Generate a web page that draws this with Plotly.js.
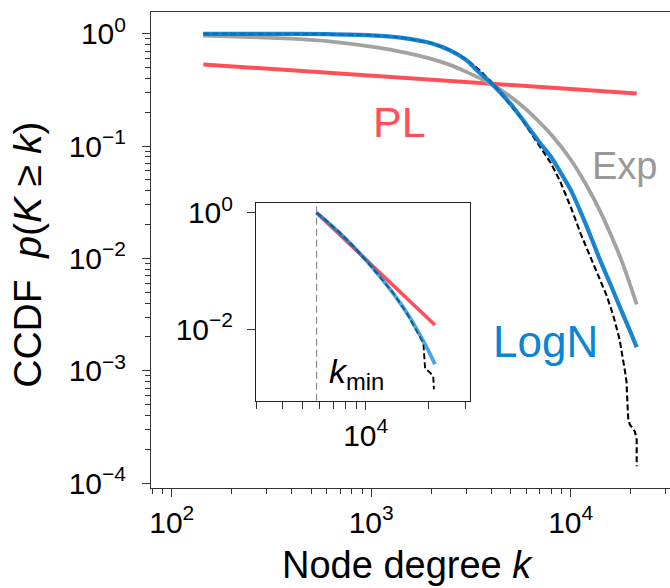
<!DOCTYPE html>
<html>
<head>
<meta charset="utf-8">
<script src="https://cdn.plot.ly/plotly-3.0.1.min.js"></script>
<style>html,body{margin:0;padding:0;overflow:hidden;background:#fff}</style>
</head>
<body>
<div id="chart" style="width:670px;height:588px"></div>
<script>
// ---- Main panel data (node degree k, CCDF p(K>=k)) ----
const dataK = [144, 300, 600, 1000, 1400, 2000, 2500, 3000, 3500, 4000, 4467, 5012, 5623, 6237, 7079, 7943, 8831, 10000, 11220, 12589, 14028, 15136, 16368, 17579, 18707, 19055, 19275, 19454, 19815, 20989, 21430, 21430];
const dataP = [1.0, 0.998, 0.989, 0.968, 0.927, 0.826, 0.716, 0.592, 0.473, 0.372, 0.295, 0.229, 0.178, 0.135, 0.0955, 0.0708, 0.049, 0.0288, 0.0166, 0.0102, 0.00646, 0.00468, 0.00309, 0.00191, 0.001, 0.000794, 0.000501, 0.000363, 0.000331, 0.000288, 0.000243, 0.000141];

const lognK = [144, 300, 600, 1000, 1400, 2000, 2500, 3000, 3500, 4000, 5000, 6000, 7000, 8000, 9000, 10000, 12000, 14000, 16000, 18000, 20000, 21430];
const lognP = [0.998, 0.997, 0.989, 0.966, 0.923, 0.822, 0.708, 0.582, 0.447, 0.363, 0.237, 0.155, 0.107, 0.0794, 0.0562, 0.0407, 0.0195, 0.00977, 0.00562, 0.00339, 0.00219, 0.00162];

const expK = [144, 250, 400, 630, 1000, 1500, 2000, 2500, 3000, 4000, 5000, 6000, 7000, 8000, 10000, 12000, 14000, 16000, 18000, 20000, 21430];
const expP = [0.959, 0.933, 0.902, 0.851, 0.767, 0.676, 0.596, 0.525, 0.457, 0.355, 0.275, 0.211, 0.162, 0.126, 0.0759, 0.0447, 0.0266, 0.0158, 0.00955, 0.00562, 0.00389];

const plK = [144, 21430];
const plP = [0.532, 0.294];

// ---- Inset data (tail above k_min) ----
const kMin = 5830;
const insDataK = [5830, 6607, 7534, 8710, 10116, 11749, 13490, 15849, 18155, 18836, 19187, 20230, 20989, 21135];
const insDataP = [1.0, 0.692, 0.452, 0.269, 0.146, 0.0776, 0.0427, 0.0178, 0.00759, 0.00575, 0.00214, 0.00182, 0.00155, 0.000933];
const insLognK = [5830, 6607, 7534, 8710, 10116, 11749, 13490, 15849, 18155, 19724, 21380];
const insLognP = [1.0, 0.684, 0.447, 0.266, 0.148, 0.0785, 0.0417, 0.0182, 0.00794, 0.00457, 0.00251];
const insPlK = [5830, 21380];
const insPlP = [1.0, 0.01186];

// ---- Tick labels ----
const xTickVals = [100, 1000, 10000];
const xTickText = ['10<sup>2</sup>', '10<sup>3</sup>', '10<sup>4</sup>'];
const yTickVals = [1, 0.1, 0.01, 0.001, 0.0001];
const yTickText = ['10<sup>0</sup>', '10<sup>\u22121</sup>', '10<sup>\u22122</sup>', '10<sup>\u22123</sup>', '10<sup>\u22124</sup>'];
const xMinorVals = [80, 90, 200, 300, 400, 500, 600, 700, 800, 900, 2000, 3000, 4000, 5000, 6000, 7000, 8000, 9000, 20000, 30000];
const yMinorVals = [0.0002, 0.0003, 0.0004, 0.0005, 0.0006, 0.0007, 0.0008, 0.0009,
  0.002, 0.003, 0.004, 0.005, 0.006, 0.007, 0.008, 0.009,
  0.02, 0.03, 0.04, 0.05, 0.06, 0.07, 0.08, 0.09,
  0.2, 0.3, 0.4, 0.5, 0.6, 0.7, 0.8, 0.9];
const insXTickVals = [10000];
const insXTickText = ['10<sup>4</sup>'];
const insXMinorVals = [3000, 4000, 5000, 6000, 7000, 8000, 9000, 20000, 30000];
const insYTickVals = [1, 0.01];
const insYTickText = ['10<sup>0</sup>', '10<sup>\u22122</sup>'];

const RED = '#ff4f58';
const BLUE = '#0679cc';
const GRAY = '#a2a2a2';
const FONT = 'Liberation Sans, Arial, Helvetica, sans-serif';
const AX = '#333333';
const insYRange = [-3.225, 0.158];

const traces = [
  {x: plK, y: plP, mode: 'lines', line: {color: RED, width: 4}, xaxis: 'x', yaxis: 'y'},
  {x: expK, y: expP, mode: 'lines', line: {color: GRAY, width: 3.8, shape: 'spline', smoothing: 0.6}, xaxis: 'x', yaxis: 'y'},
  {x: dataK, y: dataP, mode: 'lines', line: {color: '#000', width: 2.1, dash: '6px,3px'}, xaxis: 'x', yaxis: 'y'},
  {x: lognK, y: lognP, mode: 'lines', line: {color: BLUE, width: 4.2, shape: 'spline', smoothing: 0.6}, opacity: 0.92, xaxis: 'x', yaxis: 'y'},
  // k_min marker line in the inset (spans the inset's full height)
  {x: [kMin, kMin], y: insYRange.map(v => Math.pow(10, v)), mode: 'lines', line: {color: '#8a8a8a', width: 1.2, dash: '7px,4px'}, xaxis: 'x2', yaxis: 'y2'},
  {x: insPlK, y: insPlP, mode: 'lines', line: {color: RED, width: 3.6}, xaxis: 'x2', yaxis: 'y2'},
  {x: insDataK, y: insDataP, mode: 'lines', line: {color: '#000', width: 1.9, dash: '6px,3px'}, xaxis: 'x2', yaxis: 'y2'},
  {x: insLognK, y: insLognP, mode: 'lines', line: {color: '#0a82d2', width: 3.8, shape: 'spline', smoothing: 0.8}, opacity: 0.72, xaxis: 'x2', yaxis: 'y2'}
];

const layout = {
  width: 670, height: 588,
  margin: {l: 151, r: 0, t: 12, b: 100, pad: 0},
  paper_bgcolor: '#fff', plot_bgcolor: '#fff',
  showlegend: false,
  font: {family: FONT, color: '#000', size: 30},
  xaxis: {
    type: 'log', range: [1.896, 4.498],
    showline: true, linecolor: AX, linewidth: 1, mirror: true,
    ticks: 'outside', ticklen: 8, tickwidth: 1, tickcolor: AX,
    tickmode: 'array', tickvals: xTickVals, ticktext: xTickText,
    tickfont: {size: 30, family: FONT, color: '#000'},
    showgrid: false, zeroline: false,
    minor: {tickmode: 'array', tickvals: xMinorVals, ticks: 'outside', ticklen: 5, tickwidth: 1, tickcolor: AX, showgrid: false}
  },
  yaxis: {
    type: 'log', range: [-4.044, 0.193],
    showline: true, linecolor: AX, linewidth: 1, mirror: false,
    ticks: 'outside', ticklen: 8, tickwidth: 1, tickcolor: AX,
    tickmode: 'array', tickvals: yTickVals, ticktext: yTickText,
    tickfont: {size: 30, family: FONT, color: '#000'},
    ticklabelstandoff: 10,
    showgrid: false, zeroline: false,
    minor: {tickmode: 'array', tickvals: yMinorVals, ticks: 'outside', ticklen: 5, tickwidth: 1, tickcolor: AX, showgrid: false}
  },
  xaxis2: {
    type: 'log', range: [3.477, 4.497], domain: [0.2023, 0.6146], anchor: 'y2',
    showline: true, linecolor: '#222', linewidth: 1, mirror: true,
    ticks: 'outside', ticklen: 8, tickwidth: 1, tickcolor: AX,
    tickmode: 'array', tickvals: insXTickVals, ticktext: insXTickText,
    tickfont: {size: 30, family: FONT, color: '#000'},
    showgrid: false, zeroline: false,
    minor: {tickmode: 'array', tickvals: insXMinorVals, ticks: 'outside', ticklen: 7, tickwidth: 1, tickcolor: AX, showgrid: false}
  },
  yaxis2: {
    type: 'log', range: insYRange, domain: [0.1834, 0.5977], anchor: 'x2',
    showline: true, linecolor: '#222', linewidth: 1, mirror: true,
    ticks: 'outside', ticklen: 8, tickwidth: 1, tickcolor: AX,
    tickmode: 'array', tickvals: insYTickVals, ticktext: insYTickText,
    tickfont: {size: 30, family: FONT, color: '#000'},
    ticklabelstandoff: 8,
    showgrid: false, zeroline: false
  },
  annotations: [
    {xref: 'paper', yref: 'paper', x: 0.495, y: -0.162, text: 'Node degree <i>k</i>', showarrow: false,
     xanchor: 'center', yanchor: 'middle', font: {size: 38, family: FONT, color: '#000'}},
    {xref: 'paper', yref: 'paper', x: -0.237, y: 0.49, text: 'CCDF\u00a0\u00a0<i>p</i>(<i>K</i>\u00a0\u2265\u00a0<i>k</i>)', showarrow: false,
     textangle: -90, xanchor: 'center', yanchor: 'middle', font: {size: 39, family: FONT, color: '#000'}},
    {xref: 'x', yref: 'y', x: 3.144, y: -0.787, text: 'PL', showarrow: false, xanchor: 'center', yanchor: 'middle',
     font: {size: 43, family: FONT, color: RED}},
    {xref: 'x', yref: 'y', x: 4.272, y: -1.178, text: 'Exp', showarrow: false, xanchor: 'center', yanchor: 'middle',
     font: {size: 38, family: FONT, color: '#999999'}},
    {xref: 'x', yref: 'y', x: 3.875, y: -2.739, text: 'LogN', showarrow: false, xanchor: 'center', yanchor: 'middle',
     font: {size: 44, family: FONT, color: '#0a84d4'}},
    {xref: 'x2', yref: 'y2', x: 3.816, y: -2.75, text: '<i>k</i><sub>min</sub>', showarrow: false, xanchor: 'left', yanchor: 'middle',
     font: {size: 34, family: FONT, color: '#000'}}
  ]
};

Plotly.newPlot('chart', traces, layout, {staticPlot: true, displayModeBar: false});
</script>
</body>
</html>
